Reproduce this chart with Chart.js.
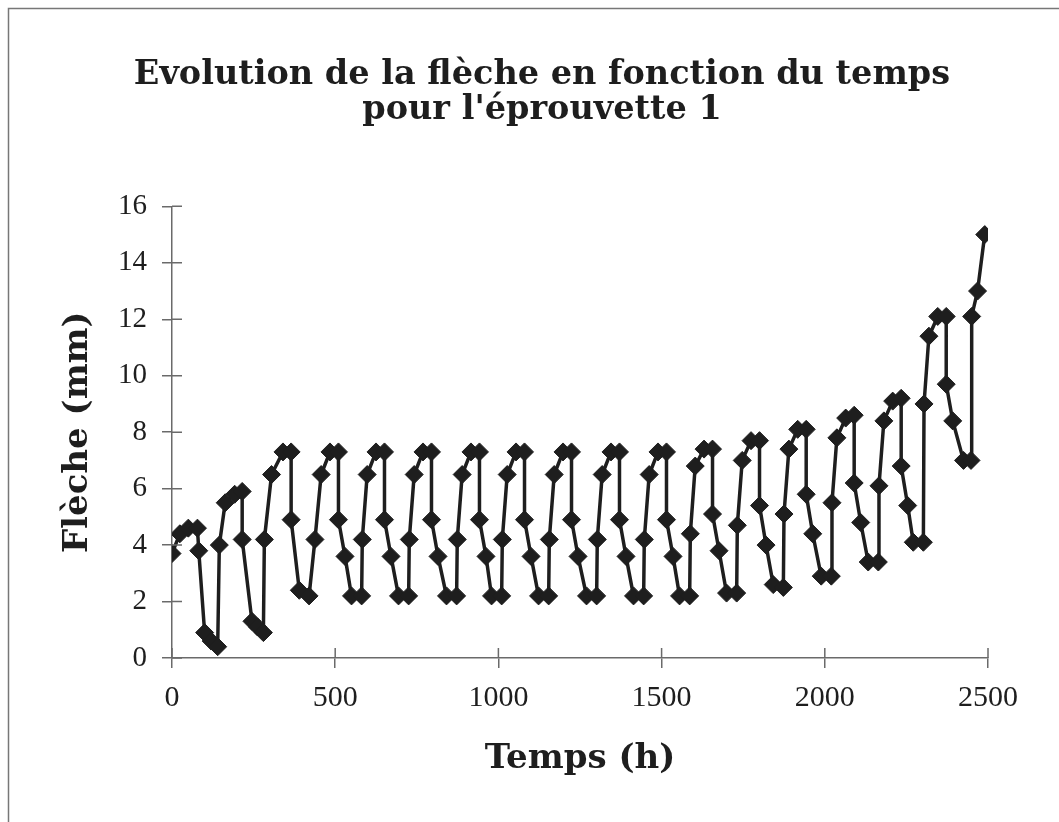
<!DOCTYPE html>
<html lang="fr">
<head>
  <meta charset="UTF-8" />
  <title>Evolution de la flèche</title>
  <script src="https://cdn.jsdelivr.net/npm/chart.js"></script>
  <style>
    body { margin: 0; background: #fff; }
    #wrap { width: 1059px; height: 822px; }
  </style>
</head>
<body>
  <div id="wrap"><canvas id="flecheChart" width="1059" height="822"></canvas></div>

  <script>
    // temps (h) et flèche (mm)
    const hours = [
      0, 24, 50, 78, 82, 100, 120, 140, 145, 163, 192, 215, 215, 245, 262, 280, 283, 305, 340, 365, 365,
      390, 420, 438, 457, 484, 510, 510, 530,
      550, 581, 583, 598, 625, 651, 651, 671,
      694, 725, 727, 742, 769, 795, 795, 815,
      841, 872, 874, 889, 916, 942, 942, 962,
      979, 1010, 1012, 1027, 1054, 1080, 1080, 1100,
      1123, 1154, 1156, 1171, 1198, 1224, 1224, 1244,
      1270, 1301, 1303, 1318, 1345, 1371, 1371, 1391,
      1414, 1445, 1447, 1462, 1489, 1515, 1515, 1535,
      1555, 1586, 1588, 1603, 1630, 1656, 1656, 1676,
      1699, 1730, 1732, 1747, 1774, 1800, 1800, 1820,
      1842, 1873, 1875, 1890, 1917, 1943, 1943, 1963,
      1989, 2020, 2022, 2037, 2064, 2090, 2090, 2110,
      2133, 2164, 2166, 2181, 2208, 2234, 2234, 2254,
      2271, 2302, 2304, 2319, 2346, 2372, 2372, 2392,
      2425, 2448, 2450, 2468, 2490
    ];
    const fleche = [
      3.7, 4.4, 4.6, 4.6, 3.8, 0.9, 0.6, 0.4, 4.0, 5.5, 5.8, 5.9, 4.2, 1.3, 1.1, 0.9, 4.2, 6.5, 7.3, 7.3, 4.9,
      2.4, 2.2, 4.2, 6.5, 7.3, 7.3, 4.9, 3.6,
      2.2, 2.2, 4.2, 6.5, 7.3, 7.3, 4.9, 3.6,
      2.2, 2.2, 4.2, 6.5, 7.3, 7.3, 4.9, 3.6,
      2.2, 2.2, 4.2, 6.5, 7.3, 7.3, 4.9, 3.6,
      2.2, 2.2, 4.2, 6.5, 7.3, 7.3, 4.9, 3.6,
      2.2, 2.2, 4.2, 6.5, 7.3, 7.3, 4.9, 3.6,
      2.2, 2.2, 4.2, 6.5, 7.3, 7.3, 4.9, 3.6,
      2.2, 2.2, 4.2, 6.5, 7.3, 7.3, 4.9, 3.6,
      2.2, 2.2, 4.4, 6.8, 7.4, 7.4, 5.1, 3.8,
      2.3, 2.3, 4.7, 7.0, 7.7, 7.7, 5.4, 4.0,
      2.6, 2.5, 5.1, 7.4, 8.1, 8.1, 5.8, 4.4,
      2.9, 2.9, 5.5, 7.8, 8.5, 8.6, 6.2, 4.8,
      3.4, 3.4, 6.1, 8.4, 9.1, 9.2, 6.8, 5.4,
      4.1, 4.1, 9.0, 11.4, 12.1, 12.1, 9.7, 8.4,
      7.0, 7.0, 12.1, 13.0, 15.0
    ];
    const xTicks = [0, 500, 1000, 1500, 2000, 2500];
    const yTicks = [0, 2, 4, 6, 8, 10, 12, 14, 16];

    const ink = "#1e1e1e";
    const axisGrey = "#6a6a6a";

    // petits traits qui traversent les axes + cadre gris
    const crossTicks = {
      id: "crossTicks",
      afterDraw(chart) {
        const { ctx, chartArea, scales } = chart;
        ctx.save();
        ctx.strokeStyle = axisGrey;
        ctx.lineWidth = 1.5;
        ctx.beginPath();
        yTicks.forEach(v => {
          const y = scales.y.getPixelForValue(v);
          ctx.moveTo(chartArea.left, y);
          ctx.lineTo(chartArea.left + 10, y);
        });
        xTicks.forEach(v => {
          const x = scales.x.getPixelForValue(v);
          ctx.moveTo(x, chartArea.bottom);
          ctx.lineTo(x, chartArea.bottom - 10);
        });
        ctx.stroke();
        ctx.strokeStyle = "#777";
        ctx.strokeRect(8.5, 8.5, 1200, 1000);
        ctx.restore();
      }
    };

    const serif = "'Liberation Serif', serif";
    const boldSerif = "'DejaVu Serif', serif";

    new Chart(document.getElementById("flecheChart"), {
      type: "scatter",
      data: {
        datasets: [{
          data: hours.map((h, i) => ({ x: h, y: fleche[i] })),
          showLine: true,
          borderColor: ink,
          borderWidth: 3.5,
          backgroundColor: ink,
          pointStyle: "rectRot",
          pointRadius: 9,
          pointBorderWidth: 1,
          pointBorderColor: ink
        }]
      },
      options: {
        responsive: false,
        animation: false,
        layout: { padding: { left: 25, right: 0, top: 0, bottom: 0 } },
        plugins: {
          legend: { display: false },
          tooltip: { enabled: false },
          title: {
            display: true,
            text: ["Evolution de la flèche en fonction du temps", "pour l'éprouvette 1"],
            color: ink,
            font: { family: boldSerif, size: 33.5, weight: "bold", lineHeight: 1.05 },
            padding: { top: 58, bottom: 78 }
          }
        },
        scales: {
          x: {
            type: "linear",
            min: 0,
            max: 2500,
            afterBuildTicks: s => { s.ticks = xTicks.map(v => ({ value: v })); },
            afterFit: s => { s.height = 164; },
            grid: { display: true, drawOnChartArea: false, tickLength: 10, color: axisGrey, lineWidth: 1.5 },
            border: { display: true, color: axisGrey, width: 1.5 },
            ticks: { color: ink, padding: 12, font: { family: serif, size: 30 }, callback: v => String(v) },
            title: {
              display: true,
              text: "Temps (h)",
              color: ink,
              font: { family: boldSerif, size: 34, weight: "bold", lineHeight: 1.2 },
              padding: { top: 0, bottom: 42 }
            }
          },
          y: {
            min: 0,
            max: 16,
            afterBuildTicks: s => { s.ticks = yTicks.map(v => ({ value: v })); },
            afterFit: s => { s.width = 147; },
            grid: { display: true, drawOnChartArea: false, tickLength: 10, color: axisGrey, lineWidth: 1.5 },
            border: { display: true, color: axisGrey, width: 1.5 },
            ticks: { color: ink, padding: 15, font: { family: serif, size: 29 }, callback: v => String(v) },
            title: {
              display: true,
              text: "Flèche (mm)",
              color: ink,
              font: { family: boldSerif, size: 34, weight: "bold", lineHeight: 1.2 },
              padding: { top: 33, bottom: 0 }
            }
          },
          // axe vide à droite pour réserver la marge
          yRight: {
            position: "right",
            min: 0,
            max: 16,
            afterFit: s => { s.width = 71; },
            grid: { display: false },
            border: { display: false },
            ticks: { display: false }
          }
        }
      },
      plugins: [crossTicks]
    });
  </script>
</body>
</html>
